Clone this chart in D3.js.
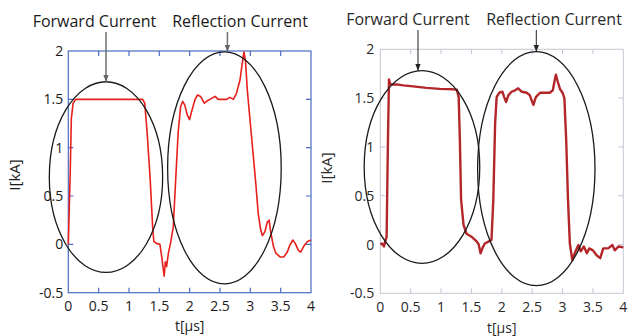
<!DOCTYPE html>
<html>
<head>
<meta charset="utf-8">
<script src="https://cdn.jsdelivr.net/npm/d3@7"></script>
<style>
  body { margin: 0; background: #fff; }
  text { font-family: "Open Sans", sans-serif; }
</style>
</head>
<body>
<div id="container"></div>
<script>
// shared axis ticks
var xTicks = [0, 0.5, 1, 1.5, 2, 2.5, 3, 3.5, 4];
var yTicks = [-0.5, 0, 0.5, 1, 1.5, 2];

// left panel (simulation)
var leftT = [0, 0.03, 0.05, 0.08, 0.12, 0.5, 1.0, 1.225, 1.26, 1.30, 1.35, 1.39, 1.41, 1.45, 1.51,
  1.54, 1.58, 1.60, 1.62, 1.65, 1.69, 1.73, 1.77, 1.81, 1.85, 1.885, 1.92, 1.96, 2.0, 2.03,
  2.09, 2.13, 2.18, 2.24, 2.28, 2.36, 2.42, 2.47, 2.55, 2.61, 2.66, 2.72, 2.77, 2.83, 2.86,
  2.895, 2.92, 2.95, 3.0, 3.05, 3.09, 3.13, 3.17, 3.2, 3.24, 3.28, 3.31, 3.33, 3.38, 3.42,
  3.49, 3.55, 3.61, 3.65, 3.7, 3.74, 3.79, 3.83, 3.88, 3.94, 4.0];
var leftI = [0, 0.7, 1.3, 1.46, 1.5, 1.5, 1.5, 1.5, 1.46, 1.15, 0.67, 0.18, 0.03, 0.01, 0.0,
  -0.13, -0.33, -0.18, -0.23, -0.09, 0.03, 0.18, 0.67, 1.15, 1.42, 1.48, 1.44, 1.34, 1.29, 1.37,
  1.5, 1.545, 1.53, 1.46, 1.48, 1.51, 1.53, 1.5, 1.5, 1.5, 1.52, 1.5, 1.56, 1.7, 1.84,
  1.99, 1.9, 1.6, 1.25, 0.91, 0.63, 0.32, 0.15, 0.09, 0.13, 0.23, 0.25, 0.15, -0.02, -0.09,
  -0.13, -0.13, -0.08, -0.01, 0.045, 0.01, -0.06, -0.08, -0.02, 0.03, 0.045];

// right panel (measurement)
var rightT = [0, 0.03, 0.06, 0.08, 0.104, 0.126, 0.143, 0.16, 0.19, 0.27, 0.38, 0.54, 0.76, 0.98,
  1.2, 1.26, 1.29, 1.31, 1.33, 1.37, 1.42, 1.5, 1.59, 1.62, 1.65, 1.68, 1.72, 1.78, 1.83, 1.86,
  1.89, 1.915, 1.96, 2.01, 2.04, 2.07, 2.11, 2.16, 2.22, 2.27, 2.33, 2.41, 2.46, 2.49, 2.52,
  2.56, 2.63, 2.79, 2.84, 2.87, 2.89, 2.92, 2.96, 3.0, 3.03, 3.06, 3.09, 3.12, 3.16, 3.2,
  3.26, 3.3, 3.35, 3.4, 3.44, 3.5, 3.56, 3.62, 3.67, 3.75, 3.82, 3.86, 3.92, 4.0];
var rightI = [0, 0.01, -0.02, 0.03, 0.08, 1.07, 1.69, 1.65, 1.64, 1.64, 1.63, 1.62, 1.605, 1.595,
  1.59, 1.585, 1.51, 1.07, 0.46, 0.2, 0.11, 0.08, 0.03, 0, -0.09, -0.04, 0.01, 0.03, 0.046, 0.455,
  1.24, 1.51, 1.555, 1.565, 1.51, 1.46, 1.53, 1.565, 1.58, 1.6, 1.565, 1.555, 1.53, 1.48, 1.43,
  1.51, 1.555, 1.555, 1.58, 1.68, 1.74, 1.67, 1.59, 1.555, 1.5, 1.07, 0.455, 0.01, -0.16, -0.09,
  -0.005, -0.07, -0.02, -0.09, -0.04, -0.06, -0.11, -0.14, -0.04, -0.04, -0.005, -0.06, -0.02, -0.03];

// annotation ellipses in data units: [t centre, I centre, t radius, I radius]
var leftEllipses = [[0.621, 0.696, 0.934, 0.986], [2.573, 0.791, 0.936, 1.20]];
var rightEllipses = [[0.686, 0.794, 0.951, 0.987], [2.568, 0.777, 0.966, 1.199]];
var labels = ["Forward Current", "Reflection Current"];

var svg = d3.select("div#container")
  .append("svg")
  .attr("width", 628)
  .attr("height", 336);

var defs = svg.append("defs");
function marker(id, col) {
  defs.append("marker")
    .attr("id", id)
    .attr("viewBox", "0 0 10 10")
    .attr("refX", 10).attr("refY", 5)
    .attr("markerWidth", 7).attr("markerHeight", 7)
    .attr("markerUnits", "userSpaceOnUse")
    .attr("orient", "auto")
    .append("path")
    .attr("d", "M0,1 L10,5 L0,9 Z")
    .attr("fill", col);
}
marker("arrGray", "#666");
marker("arrBlack", "#222");

function drawPanel(p) {
  var x = d3.scaleLinear().domain([0, 4]).range([p.x0, p.x1]);
  var y = d3.scaleLinear().domain([-0.5, 2]).range([p.y1, p.y0]);
  var g = svg.append("g");

  // frame
  g.append("rect")
    .attr("x", p.x0).attr("y", p.y0)
    .attr("width", p.x1 - p.x0).attr("height", p.y1 - p.y0)
    .attr("fill", "none")
    .attr("stroke", p.frame)
    .attr("stroke-width", p.frameW);

  // inward ticks on all four sides
  var tk = 5;
  g.selectAll(".xt").data(xTicks.slice(1, -1)).enter().append("path")
    .attr("d", function(d) {
      return "M" + x(d) + "," + p.y1 + "v" + (-tk) + "M" + x(d) + "," + p.y0 + "v" + tk;
    })
    .attr("stroke", p.frame).attr("stroke-width", p.frameW);
  g.selectAll(".yt").data(yTicks.slice(1, -1)).enter().append("path")
    .attr("d", function(d) {
      return "M" + p.x0 + "," + y(d) + "h" + tk + "M" + p.x1 + "," + y(d) + "h" + (-tk);
    })
    .attr("stroke", p.frame).attr("stroke-width", p.frameW);

  // tick labels
  g.selectAll(".xl").data(xTicks).enter().append("text")
    .attr("x", function(d) { return x(d); })
    .attr("y", p.y1 + p.xlOff)
    .attr("text-anchor", "middle")
    .attr("font-size", 14)
    .attr("fill", p.textCol)
    .text(function(d) { return d; });
  g.selectAll(".yl").data(yTicks).enter().append("text")
    .attr("x", p.x0 - p.ylOff)
    .attr("y", function(d) { return y(d); })
    .attr("dy", "0.36em")
    .attr("text-anchor", "end")
    .attr("font-size", 14)
    .attr("fill", p.textCol)
    .text(function(d) { return d; });

  // axis titles
  g.append("text")
    .attr("x", (p.x0 + p.x1) / 2).attr("y", p.tTitleY)
    .attr("text-anchor", "middle")
    .attr("font-size", 14)
    .attr("fill", p.textCol)
    .text("t[\u03bcs]");
  g.append("text")
    .attr("transform", "translate(" + p.iTitleX + "," + p.iTitleY + ") rotate(-90)")
    .attr("text-anchor", "middle")
    .attr("font-size", 15)
    .attr("fill", p.textCol)
    .text("I[kA]");

  // curve
  var pts = d3.zip(p.t, p.i);
  g.append("path")
    .datum(pts)
    .attr("d", d3.line().x(function(d) { return x(d[0]); }).y(function(d) { return y(d[1]); }))
    .attr("fill", "none")
    .attr("stroke", p.lineCol)
    .attr("stroke-width", p.lineW)
    .attr("stroke-linejoin", "round");

  // ellipses
  g.selectAll(".el").data(p.ellipses).enter().append("ellipse")
    .attr("cx", function(d) { return x(d[0]); })
    .attr("cy", function(d) { return y(d[1]); })
    .attr("rx", function(d) { return x(d[2]) - x(0); })
    .attr("ry", function(d) { return y(0) - y(d[3]); })
    .attr("fill", "none")
    .attr("stroke", "#1a1a1a")
    .attr("stroke-width", 1.3);

  // arrows and labels
  p.ellipses.forEach(function(d, k) {
    var ax = x(d[0]) + p.arrowDx[k];
    g.append("line")
      .attr("x1", ax).attr("y1", p.arrowY0)
      .attr("x2", ax).attr("y2", y(d[1] + d[3]))
      .attr("stroke", p.arrowCol)
      .attr("stroke-width", p.arrowW)
      .attr("marker-end", "url(#" + p.marker + ")");
    g.append("text")
      .attr("x", p.labelX[k]).attr("y", p.labelY)
      .attr("text-anchor", "middle")
      .attr("font-size", 16)
      .attr("fill", p.textCol)
      .text(labels[k]);
  });
}

drawPanel({
  x0: 68.3, x1: 311, y0: 51, y1: 292.7,
  frame: "#4a6cc4", frameW: 1.2, textCol: "#1a1a1a",
  xlOff: 18, ylOff: 5, tTitleY: 331, iTitleX: 20, iTitleY: 175,
  t: leftT, i: leftI, lineCol: "#e8201c", lineW: 1.6,
  ellipses: leftEllipses, arrowDx: [0, 3],
  arrowY0: 32, arrowCol: "#707070", arrowW: 1.5, marker: "arrGray",
  labelX: [94.5, 240], labelY: 27
});

drawPanel({
  x0: 380.3, x1: 623.3, y0: 49.3, y1: 293.3,
  frame: "#c6c6d2", frameW: 1, textCol: "#2a2a2a",
  xlOff: 18.5, ylOff: 6, tTitleY: 333, iTitleX: 332, iTitleY: 168,
  t: rightT, i: rightI, lineCol: "#b3262a", lineW: 2.4,
  ellipses: rightEllipses, arrowDx: [-4, 0],
  arrowY0: 30, arrowCol: "#222", arrowW: 1, marker: "arrBlack",
  labelX: [408, 554], labelY: 25
});
</script>
</body>
</html>
